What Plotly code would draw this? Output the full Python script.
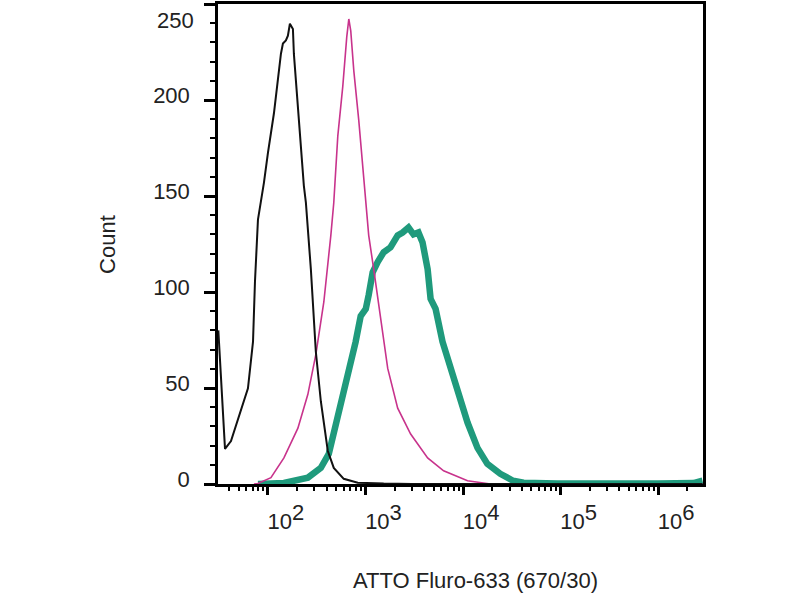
import plotly.graph_objects as go

# histogram outlines (fluorescence, count)
black_x = [31, 36.3, 41.8, 52.9, 62.4, 70.3, 73.6, 79, 84.8, 91, 100, 115.2, 135.9, 142.4,
           152.8, 160.2, 167.9, 180.3, 184.5, 207.5, 233.5, 244.9, 275.4, 309.6, 348.5,
           410.9, 473.1, 598.6, 833.5, 1537, 3000, 1e5, 2.85e6]
black_y = [80, 18.3, 22.4, 37.9, 49.8, 74.1, 105.2, 137.7, 146.5, 157, 172.4, 193.1, 224.1,
           229.4, 231, 233.5, 239.7, 237, 224, 189.5, 155.3, 146.5, 111.9, 69, 43.1,
           17.2, 8.4, 2.7, 0.7, 0.2, 0, 0, 0]

magenta_x = [71.9, 79, 107.3, 145.8, 202.8, 256.6, 309.6, 374, 441.3, 473, 520, 585, 642.7,
             674.5, 706.3, 758.6, 853, 1007, 1079, 1214, 1432, 1690, 2138, 2904, 4335,
             6324, 11120, 19100, 1e5, 2.85e6]
magenta_y = [0, 0.3, 3.3, 13.6, 29.1, 46.7, 67.4, 94.8, 129.5, 146.5, 181.2, 207.1, 232.9,
             242.2, 236, 215.3, 189.5, 146.5, 129.5, 111.9, 86, 60.2, 39.5, 26, 13.6,
             6.9, 1.7, 0, 0, 0]

teal_x = [79, 145.8, 256.6, 348.5, 420.7, 473, 557, 657, 793, 893, 1007, 1079, 1185,
          1333, 1535, 1806, 2138, 2401, 2760, 3105, 3492, 3845, 4335, 4650, 5230, 6160,
          7460, 8980, 11120, 14060, 17750, 24110, 32630, 41800, 92300, 1e6, 2.3e6, 2.85e6]
teal_y = [0, 0.5, 3.3, 8.4, 15.7, 26, 43.1, 57.1, 74.1, 87.5, 91.2, 98.5, 110.3,
          115.6, 120.7, 123.3, 129.5, 131, 133.6, 130, 131, 125.8, 111.9, 96.4, 91.2, 74.1,
          60.2, 46.7, 32, 18.8, 10.5, 5.3, 1.7, 0.7, 0.2, 0.2, 0.5, 1.7]

x_ticks = [1e2, 1e3, 1e4, 1e5, 1e6]
x_labels = ["10<sup><span style='font-size:22px'>%d</span></sup>" % p for p in range(2, 7)]
y_ticks = [0, 50, 100, 150, 200, 250]
y_labels = ["0", "50", "100", "150", "200", ""]

FONT = "Liberation Sans, Arial, sans-serif"

fig = go.Figure()
fig.add_trace(go.Scatter(x=teal_x, y=teal_y, mode="lines",
                         line=dict(color="#1f9a7c", width=6.5)))
fig.add_trace(go.Scatter(x=magenta_x, y=magenta_y, mode="lines",
                         line=dict(color="#c8338c", width=1.6)))
fig.add_trace(go.Scatter(x=black_x, y=black_y, mode="lines",
                         line=dict(color="#111111", width=2)))

fig.update_layout(
    width=800, height=600,
    margin=dict(l=218, r=97, t=1, b=116),
    paper_bgcolor="white", plot_bgcolor="white",
    showlegend=False,
    font=dict(family=FONT, size=22, color="#222222"),
)
fig.update_xaxes(
    type="log", range=[1.488, 6.46],
    tickmode="array", tickvals=x_ticks, ticktext=x_labels,
    ticks="outside", ticklen=8, tickwidth=3, tickcolor="black",
    ticklabelshift=18, ticklabelstandoff=8,
    minor=dict(ticks="outside", ticklen=4, tickwidth=2, tickcolor="black", dtick="D1"),
    showline=True, linecolor="black", linewidth=2.5, mirror=True,
    showgrid=False, zeroline=False,
)
fig.update_yaxes(
    range=[0, 250],
    tickmode="array", tickvals=y_ticks, ticktext=y_labels,
    ticks="outside", ticklen=11, tickwidth=3, tickcolor="black",
    ticklabelshift=-5, ticklabelstandoff=10,
    minor=dict(ticks="outside", ticklen=5, tickwidth=2, tickcolor="black",
               tickmode="linear", tick0=0, dtick=10),
    showline=True, linecolor="black", linewidth=2.5, mirror=True,
    showgrid=False, zeroline=False,
)

# top tick label sits lower so it stays inside the picture
fig.add_annotation(x=0, xref="paper", y=250, yref="y", text="250",
                   xanchor="right", yanchor="middle", xshift=-22, yshift=-16,
                   showarrow=False, font=dict(size=22, color="#222222"))
fig.add_annotation(x=0.53, xref="paper", y=-0.2, yref="paper",
                   text="ATTO Fluro-633 (670/30)", xanchor="center", yanchor="middle",
                   showarrow=False, font=dict(size=22, color="#222222"))
fig.add_annotation(x=-0.229, xref="paper", y=0.5, yref="paper", text="Count",
                   textangle=-90, xanchor="center", yanchor="middle",
                   showarrow=False, font=dict(size=22, color="#222222"))

fig.write_html("out.html", config={"displayModeBar": False},
               post_script="document.body.style.margin='0px';")
